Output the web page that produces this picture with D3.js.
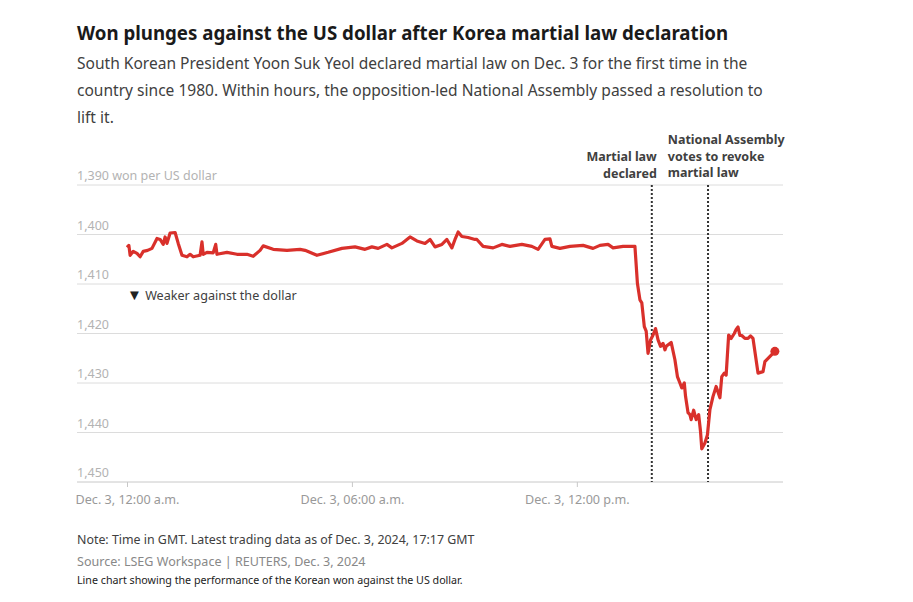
<!DOCTYPE html>
<html lang="en">
  <head>
    <meta charset="UTF-8">
    <title>Won vs US dollar</title>
    <style>
body {margin: 0; background: #fff;}
text {font-family: "Noto Sans", sans-serif;}
</style>
  </head>
  <body>
<div id="chart"></div>
<script src="https://d3js.org/d3.v7.min.js"></script>
<script>

// readings of the won per dollar rate, Dec. 3 2024 (GMT)
var times = ["00:00","00:03","00:05","00:10","00:16","00:21","00:26","00:33","00:40","00:48",
  "00:53","00:58","01:01","01:04","01:09","01:17","01:22","01:28","01:36","01:41",
  "01:46","01:57","02:00","02:02","02:08","02:18","02:22","02:24","02:40","02:56",
  "03:12","03:22","03:33","03:38","03:54","04:16","04:37","04:45","05:04","05:22",
  "05:44","06:05","06:21","06:32","06:42","06:56","07:04","07:20","07:33","07:44",
  "07:57","08:05","08:13","08:24","08:32","08:40","08:45","08:50","08:56","09:06",
  "09:17","09:20","09:30","09:46","10:00","10:13","10:32","10:48","10:58","11:09",
  "11:17","11:20","11:33","11:49","12:10","12:26","12:37","12:50","12:58","13:14",
  "13:33","13:37","13:41","13:44","13:48","13:51","13:54","13:58","14:02","14:06",
  "14:10","14:14","14:18","14:21","14:23","14:31","14:37","14:41","14:45","14:48",
  "14:52","14:54","14:58","15:01","15:03","15:07","15:11","15:15","15:18","15:20",
  "15:25","15:29","15:33","15:38","15:43","15:49","15:52","15:56","15:59","16:03",
  "16:07","16:12","16:15","16:18","16:21","16:24","16:29","16:34","16:38","16:42",
  "16:50","16:58","17:01","17:17"];
var rates = [1402.6,1402.2,1404.2,1403.4,1403.8,1404.5,1403.4,1403.2,1402.8,1400.8,
  1401.0,1402.0,1400.5,1401.8,1399.7,1399.6,1401.8,1404.2,1404.5,1404.0,
  1404.5,1404.2,1401.5,1404.0,1403.6,1403.7,1402.0,1404.0,1403.6,1404.0,
  1404.0,1404.4,1403.2,1402.3,1403.0,1403.2,1403.0,1403.2,1404.2,1403.6,
  1402.8,1402.5,1403.0,1402.5,1402.8,1402.0,1402.7,1401.8,1400.5,1401.3,
  1401.8,1401.0,1402.5,1402.0,1401.0,1402.7,1401.0,1399.5,1400.4,1400.6,
  1401.0,1401.0,1402.4,1402.7,1402.0,1402.4,1402.0,1402.4,1403.0,1401.0,
  1400.9,1402.4,1402.8,1402.4,1402.2,1402.8,1402.2,1402.0,1402.7,1402.4,
  1402.4,1409.9,1413.2,1413.8,1418.6,1419.5,1424.0,1421.3,1420.3,1419.0,
  1421.3,1422.6,1422.0,1423.3,1422.6,1421.8,1425.3,1428.7,1430.0,1431.0,
  1430.0,1432.7,1436.0,1436.4,1437.4,1435.5,1437.4,1436.4,1439.8,1443.3,
  1442.1,1440.5,1435.4,1432.7,1430.7,1433.0,1428.7,1428.0,1428.4,1420.3,
  1421.0,1420.0,1419.2,1418.7,1420.4,1420.4,1421.0,1421.0,1420.5,1421.0,
  1428.0,1427.7,1425.7,1423.6];

// y axis ticks (the scale runs upside down: weaker won is lower)
var yTicks = [1390, 1400, 1410, 1420, 1430, 1440, 1450];
var yTickLabels = ["1,390 won per US dollar", "1,400", "1,410", "1,420", "1,430", "1,440", "1,450"];

// x axis ticks
var xTicks = ["00:00", "06:00", "12:00"];
var xTickLabels = ["Dec. 3, 12:00 a.m.", "Dec. 3, 06:00 a.m.", "Dec. 3, 12:00 p.m."];

// events
var eventTimes = ["14:00", "15:30"];
var eventLabels = [["Martial law", "declared"], ["National Assembly", "votes to revoke", "martial law"]];

var subtitle = [
  "South Korean President Yoon Suk Yeol declared martial law on Dec. 3 for the first time in the",
  "country since 1980. Within hours, the opposition-led National Assembly passed a resolution to",
  "lift it."
];

var parseT = function(s) { return new Date("2024-12-03T" + s + ":00Z"); };
var data = times.map(function(t, i) { return {date: parseT(t), value: rates[i]}; });

var W = 913, H = 602;
var left = 77, right = 783;

var svg = d3.select("#chart").append("svg")
    .attr("width", W)
    .attr("height", H);

// title + subtitle
svg.append("text")
    .attr("x", left).attr("y", 40)
    .attr("font-size", 18.7).attr("font-weight", 700)
    .attr("fill", "#1a1a1a")
    .text("Won plunges against the US dollar after Korea martial law declaration");

svg.append("g").selectAll("text")
  .data(subtitle)
  .enter().append("text")
    .attr("x", left)
    .attr("y", function(d, i) { return 69 + i * 27; })
    .attr("font-size", 15.55)
    .attr("fill", "#404040")
    .text(function(d) { return d; });

// scales
var x = d3.scaleUtc()
  .domain([parseT("00:00"), parseT("17:30")])
  .range([127, right]);

var y = d3.scaleLinear()
  .domain([1390, 1450])
  .range([185, 482]);

// gridlines
svg.append("g").selectAll("line")
  .data(yTicks)
  .enter().append("line")
    .attr("x1", left).attr("x2", right)
    .attr("y1", function(d) { return y(d); })
    .attr("y2", function(d) { return y(d); })
    .attr("stroke", function(d) { return d == 1450 ? "#c8c8c8" : "#dcdcdc"; })
    .attr("stroke-width", 1);

svg.append("g").selectAll("text")
  .data(yTicks)
  .enter().append("text")
    .attr("x", left)
    .attr("y", function(d) { return y(d) - 5; })
    .attr("font-size", 12.5)
    .attr("fill", "#b3b3b3")
    .text(function(d, i) { return yTickLabels[i]; });

// x axis
var xAxis = svg.append("g")
  .attr("transform", "translate(0," + y(1450) + ")")
  .call(d3.axisBottom(x)
    .tickValues(xTicks.map(parseT))
    .tickSize(5)
    .tickFormat(function(d, i) { return xTickLabels[i]; }));
xAxis.select(".domain").remove();
xAxis.selectAll(".tick line").attr("stroke", "#c8c8c8");
xAxis.selectAll(".tick text")
  .attr("font-family", "Noto Sans, sans-serif")
  .attr("font-size", 12.6)
  .attr("fill", "#999")
  .attr("dy", "1.1em");

// event lines
var evX = eventTimes.map(function(t) { return x(parseT(t)); });
svg.append("g").selectAll("line")
  .data(evX)
  .enter().append("line")
    .attr("x1", function(d) { return d; })
    .attr("x2", function(d) { return d; })
    .attr("y1", y(1390)).attr("y2", y(1450))
    .attr("stroke", "#333")
    .attr("stroke-width", 2)
    .attr("stroke-dasharray", "2,2");

// event labels: first ends at its line, second starts after it
var lab1 = svg.append("text")
  .attr("font-size", 12.5).attr("font-weight", 700).attr("fill", "#404040")
  .attr("text-anchor", "end");
lab1.selectAll("tspan")
  .data(eventLabels[0])
  .enter().append("tspan")
    .attr("x", evX[0] + 5)
    .attr("y", function(d, i) { return 161 + i * 16.5; })
    .text(function(d) { return d; });

var lab2 = svg.append("text")
  .attr("font-size", 12.5).attr("font-weight", 700).attr("fill", "#404040");
lab2.selectAll("tspan")
  .data(eventLabels[1])
  .enter().append("tspan")
    .attr("x", evX[0] + 16)
    .attr("y", function(d, i) { return 144 + i * 16.5; })
    .text(function(d) { return d; });

// direction note
var weak = svg.append("text")
  .attr("x", 127).attr("y", 300)
  .attr("font-size", 12.6).attr("fill", "#404040");
weak.append("tspan").attr("font-size", 15).attr("fill", "#222").text("\u25BC");
weak.append("tspan").text(" Weaker against the dollar");

// the line
var line = d3.line()
  .x(function(d) { return x(d.date); })
  .y(function(d) { return y(d.value); });

svg.append("path")
  .datum(data)
  .attr("fill", "none")
  .attr("stroke", "#d9302b")
  .attr("stroke-width", 3.2)
  .attr("stroke-linejoin", "round")
  .attr("d", line);

var last = data[data.length - 1];
svg.append("circle")
  .attr("cx", x(last.date))
  .attr("cy", y(last.value))
  .attr("r", 4.5)
  .attr("fill", "#d9302b");

// footer
svg.append("text")
  .attr("x", left).attr("y", 544)
  .attr("font-size", 12.4).attr("fill", "#404040")
  .text("Note: Time in GMT. Latest trading data as of Dec. 3, 2024, 17:17 GMT");
svg.append("text")
  .attr("x", left).attr("y", 566)
  .attr("font-size", 12.55).attr("fill", "#888")
  .text("Source: LSEG Workspace | REUTERS, Dec. 3, 2024");
svg.append("text")
  .attr("x", left).attr("y", 584)
  .attr("font-size", 10.7).attr("fill", "#222")
  .text("Line chart showing the performance of the Korean won against the US dollar.");

</script>
  </body>
</html>
